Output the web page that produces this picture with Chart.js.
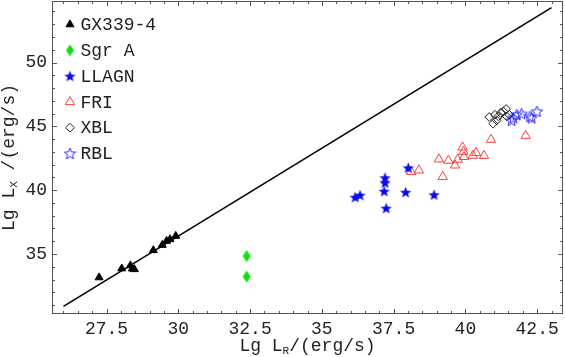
<!DOCTYPE html>
<html>
<head>
<meta charset="utf-8">
<script src="https://cdn.jsdelivr.net/npm/chart.js@4.4.1/dist/chart.umd.min.js"></script>
<style>
  html, body { margin: 0; padding: 0; background: #fff; }
</style>
</head>
<body>
<canvas id="myChart" width="565" height="357"></canvas>
<script>
// values (Lg L_R, Lg L_X)
const gxX = [27.24, 28.03, 28.33, 28.4, 28.47, 29.13, 29.44, 29.59, 29.71, 29.91];
const gxY = [33.16, 33.86, 34.1, 33.85, 33.8, 35.29, 35.7, 36.02, 36.15, 36.41];

const sgrX = [32.38, 32.38];
const sgrY = [34.84, 33.23];

const llagnX = [38.01, 37.2, 37.2, 37.17, 37.92, 38.91, 36.16, 36.33, 37.24];
const llagnY = [41.75, 40.97, 40.58, 39.92, 39.84, 39.64, 39.45, 39.61, 38.59];

const friX = [38.11, 38.38, 39.08, 39.41, 39.21, 39.64, 39.73, 39.9, 39.93, 39.95, 40.26, 40.37, 40.65, 40.89, 42.1];
const friY = [41.44, 41.56, 42.42, 42.32, 41.05, 41.95, 42.4, 43.36, 43.02, 42.61, 42.71, 42.92, 42.69, 43.96, 44.27];

const xblX = [40.83, 40.97, 41.03, 41.09, 41.15, 41.23, 41.32, 41.42, 41.44, 41.53];
const xblY = [45.73, 45.21, 45.91, 45.47, 45.78, 46.05, 46.17, 46.36, 45.78, 45.91];

const rblX = [41.61, 41.67, 41.79, 41.96, 42.25, 42.31, 42.49];
const rblY = [45.47, 45.66, 45.91, 45.99, 45.78, 45.66, 46.17];

// reference line
const lineX = [26, 43];
const lineY = [30.9, 54.3];

const xTicks = [27.5, 30, 32.5, 35, 37.5, 40, 42.5];
const yTicks = [35, 40, 45, 50];

const FONT = "'Liberation Mono', 'DejaVu Sans Mono', monospace";

const toPts = (xs, ys) => xs.map((x, i) => ({ x: x, y: ys[i] }));

function starImage(filled) {
  const c = document.createElement("canvas");
  c.width = 13; c.height = 13;
  const g = c.getContext("2d");
  g.beginPath();
  for (let i = 0; i < 10; i++) {
    const r = i % 2 === 0 ? 6 : 2.6;
    const a = -Math.PI / 2 + i * Math.PI / 5;
    const px = 6.5 + r * Math.cos(a), py = 7 + r * Math.sin(a);
    if (i === 0) g.moveTo(px, py); else g.lineTo(px, py);
  }
  g.closePath();
  if (filled) {
    g.fillStyle = "#0a0aee";
    g.fill();
  } else {
    g.strokeStyle = "#2a2aff";
    g.lineWidth = 1;
    g.stroke();
  }
  return c;
}

function diamondImage() {
  const c = document.createElement("canvas");
  c.width = 9; c.height = 13;
  const g = c.getContext("2d");
  g.beginPath();
  g.moveTo(4.5, 0.5);
  g.lineTo(8.5, 6.5);
  g.lineTo(4.5, 12.5);
  g.lineTo(0.5, 6.5);
  g.closePath();
  g.fillStyle = "#12e012";
  g.fill();
  return c;
}

const starFilled = starImage(true);
const starHollow = starImage(false);
const diamond = diamondImage();

const data = {
  datasets: [
    { label: "GX339-4", data: toPts(gxX, gxY), pointStyle: "triangle", pointRadius: 4.6,
      backgroundColor: "#000", borderColor: "#000", borderWidth: 1 },
    { label: "Sgr A", data: toPts(sgrX, sgrY), pointStyle: diamond, pointRadius: 5,
      backgroundColor: "#12e012", borderColor: "#12e012", borderWidth: 0 },
    { label: "LLAGN", data: toPts(llagnX, llagnY), pointStyle: starFilled, pointRadius: 6,
      backgroundColor: "#0a0aee", borderColor: "#0a0aee", borderWidth: 0 },
    { label: "FRI", data: toPts(friX, friY), pointStyle: "triangle", pointRadius: 5.4,
      backgroundColor: "rgba(255,255,255,0)", borderColor: "rgba(255,30,30,0.85)", borderWidth: 1 },
    { label: "XBL", data: toPts(xblX, xblY), pointStyle: "rectRot", pointRadius: 4.4,
      backgroundColor: "rgba(255,255,255,0)", borderColor: "#222", borderWidth: 1 },
    { label: "RBL", data: toPts(rblX, rblY), pointStyle: starHollow, pointRadius: 6,
      backgroundColor: "rgba(255,255,255,0)", borderColor: "#2a2aff", borderWidth: 0 },
    { type: "line", label: "", data: toPts(lineX, lineY), showLine: true, borderColor: "#000",
      borderWidth: 1.6, pointRadius: 0, fill: false },
  ],
};

// frame with inward ticks on all four sides
const framePlugin = {
  id: "frame",
  beforeDatasetsDraw(chart) {
    const { ctx, chartArea: a, scales: { x, y } } = chart;
    ctx.save();
    ctx.strokeStyle = "#555";
    ctx.lineWidth = 1;
    ctx.strokeRect(a.left + 0.5, a.top + 0.5, a.right - a.left - 1, a.bottom - a.top - 1);
    ctx.beginPath();
    for (let v = Math.ceil(x.min * 2) / 2; v <= x.max; v += 0.5) {
      const px = Math.round(x.getPixelForValue(v)) + 0.5;
      const len = Math.abs(v / 2.5 - Math.round(v / 2.5)) < 1e-6 ? 5 : 3;
      ctx.moveTo(px, a.bottom); ctx.lineTo(px, a.bottom - len);
      ctx.moveTo(px, a.top); ctx.lineTo(px, a.top + len);
    }
    for (let v = Math.ceil(y.min); v <= y.max; v += 1) {
      const py = Math.round(y.getPixelForValue(v)) + 0.5;
      const len = v % 5 === 0 ? 5 : 3;
      ctx.moveTo(a.left, py); ctx.lineTo(a.left + len, py);
      ctx.moveTo(a.right, py); ctx.lineTo(a.right - len, py);
    }
    ctx.stroke();
    ctx.restore();
  },
  afterDraw(chart) {
    const { ctx, chartArea: a } = chart;
    ctx.save();
    // legend
    ctx.font = "18px " + FONT;
    ctx.fillStyle = "#222";
    ctx.textBaseline = "middle";
    let row = 0;
    chart.data.datasets.forEach((ds) => {
      if (ds.type === "line") return;
      const cy = a.top + 23.5 + row * 25.8;
      ctx.save();
      ctx.fillStyle = ds.backgroundColor;
      ctx.strokeStyle = ds.borderColor;
      ctx.lineWidth = ds.borderWidth;
      Chart.helpers.drawPoint(ctx, { pointStyle: ds.pointStyle, radius: ds.pointRadius,
        rotation: 0, borderWidth: ds.borderWidth }, a.left + 18, cy);
      ctx.restore();
      ctx.fillText(ds.label, a.left + 28.5, cy + 1);
      row++;
    });
    // axis titles with subscripts
    const drawTitle = (parts, cx, cy) => {
      let w = 0;
      parts.forEach((p) => { ctx.font = p[1] + "px " + FONT; w += ctx.measureText(p[0]).width; });
      let x0 = cx - w / 2;
      ctx.textBaseline = "alphabetic";
      ctx.textAlign = "left";
      parts.forEach((p) => {
        ctx.font = p[1] + "px " + FONT;
        ctx.fillText(p[0], x0, cy + p[2]);
        x0 += ctx.measureText(p[0]).width;
      });
    };
    ctx.fillStyle = "#222";
    drawTitle([["Lg L", 18, 0], ["R", 11, 3], ["/(erg/s)", 18, 0]], (a.left + a.right) / 2, 351);
    ctx.save();
    ctx.translate(14, (a.top + a.bottom) / 2);
    ctx.rotate(-Math.PI / 2);
    drawTitle([["Lg L", 18, 0], ["X", 11, 3], [" /(erg/s)", 18, 0]], 0, 0);
    ctx.restore();
    ctx.restore();
  },
};

// keep the plot frame where the reference has it
const noPad = (s) => { s.paddingLeft = 0; s.paddingRight = 0; s.paddingTop = 0; s.paddingBottom = 0; };

const config = {
  type: "scatter",
  data: data,
  options: {
    responsive: false,
    animation: false,
    devicePixelRatio: 1,
    layout: { autoPadding: false, padding: { top: 1, right: 2, left: 0, bottom: 0 } },
    plugins: { legend: { display: false }, tooltip: { enabled: false } },
    scales: {
      x: {
        type: "linear", min: 25.6, max: 43.4,
        afterBuildTicks: (s) => { s.ticks = xTicks.map((v) => ({ value: v })); },
        afterFit: (s) => { s.height = 43; noPad(s); },
        grid: { display: false, drawTicks: false },
        border: { display: false },
        ticks: { font: { family: FONT, size: 18 }, color: "#222", padding: 4,
          maxRotation: 0, autoSkip: false, callback: (v) => String(v) },
      },
      y: {
        type: "linear", min: 30.3, max: 54.82,
        afterBuildTicks: (s) => { s.ticks = yTicks.map((v) => ({ value: v })); },
        afterFit: (s) => { s.width = 52; noPad(s); },
        grid: { display: false, drawTicks: false },
        border: { display: false },
        ticks: { font: { family: FONT, size: 18 }, color: "#222", padding: 5,
          autoSkip: false, callback: (v) => String(v) },
      },
    },
  },
  plugins: [framePlugin],
};

const myChart = new Chart(document.getElementById("myChart"), config);
</script>
</body>
</html>
